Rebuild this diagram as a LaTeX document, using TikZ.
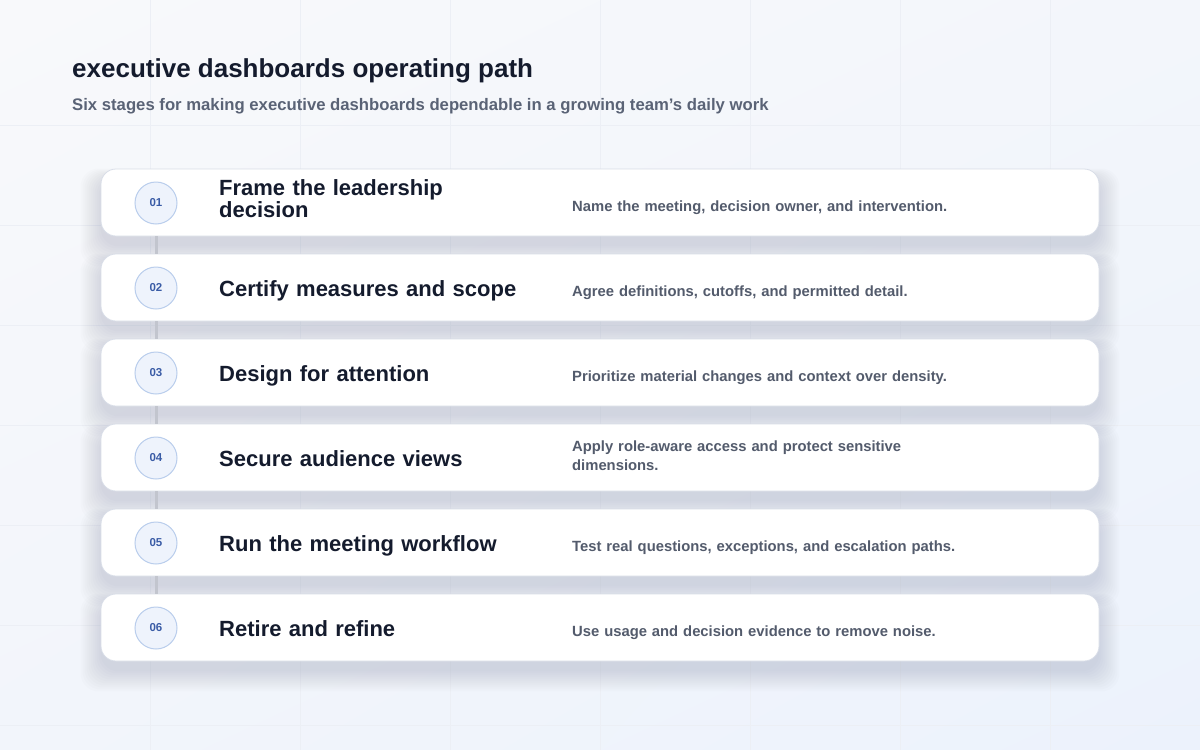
\documentclass[tikz,border=0pt]{standalone}
\usepackage{fontspec}
\setmainfont{Liberation Sans}
\usetikzlibrary{shadings,positioning}
\hyphenpenalty=10000
\exhyphenpenalty=10000

\definecolor{inkdark}{HTML}{141B2D}
\definecolor{inkgrey}{HTML}{5A6376}
\definecolor{descgrey}{HTML}{535B6C}
\definecolor{cardline}{HTML}{D9DEE8}
\definecolor{dotfill}{HTML}{EEF3FC}
\definecolor{dotline}{HTML}{B9CDEC}
\definecolor{dotink}{HTML}{3A5CA6}
\definecolor{railgrey}{HTML}{C2C5CE}
\definecolor{gridline}{HTML}{ECEFF5}
\definecolor{shadetone}{HTML}{7A8299}
\definecolor{bgul}{HTML}{F8F9FB}
\definecolor{bgur}{HTML}{F3F6FB}
\definecolor{bgll}{HTML}{F2F5FB}
\definecolor{bglr}{HTML}{ECF2FC}

\pgfdeclarelayer{backdrop}
\pgfdeclarelayer{shade}
\pgfsetlayers{backdrop,shade,main}

\tikzset{
  card/.style={rectangle,rounded corners=15pt,draw=cardline,line width=0.8pt,
    fill=white,minimum width=998pt,minimum height=67pt,inner sep=0pt},
  cardshade/.style={fill=shadetone,opacity=0.025,rounded corners=18pt},
  stepdot/.style={circle,draw=dotline,line width=1pt,fill=dotfill,
    minimum size=42pt,inner sep=0pt,text=dotink,
    font=\bfseries\fontsize{11.5}{12}\selectfont},
  stagetitle/.style={anchor=base west,inner sep=0pt,text=inkdark,text width=320pt,
    align=left,font=\bfseries\fontsize{22}{22}\selectfont},
  stagetext/.style={anchor=base west,inner sep=0pt,text=descgrey,text width=395pt,
    align=left,font=\bfseries\fontsize{14.8}{19}\selectfont},
  rail/.style={draw=railgrey,line width=3pt}
}

\begin{document}
\begin{tikzpicture}[x=1pt,y=-1pt]
\useasboundingbox (0,0) rectangle (1200,750);
% background and faint grid
\begin{pgfonlayer}{backdrop}
\shade[upper left=bgul,upper right=bgur,lower left=bgll,lower right=bglr]
  (0,0) rectangle (1200,750);
\foreach \gx in {150,300,...,1050} \draw[gridline,line width=0.6pt] (\gx,0) -- (\gx,750);
\foreach \gy in {125,225,...,725} \draw[gridline,line width=0.6pt] (0,\gy) -- (1200,\gy);
\end{pgfonlayer}

% heading
\node[anchor=base west,inner sep=0pt,text=inkdark,font=\bfseries\fontsize{26}{30}\selectfont]
  (title) at (72,77) {executive dashboards operating path};
\node[anchor=base west,inner sep=0pt,text=inkgrey,font=\bfseries\fontsize{16.7}{20}\selectfont]
  (subtitle) at (72,110) {Six stages for making executive dashboards dependable in a growing team’s daily work};

% cards
\node[card] (card1) at (600,202.5) {};
\node[card] (card2) at (600,287.5) {};
\node[card] (card3) at (600,372.5) {};
\node[card] (card4) at (600,457.5) {};
\node[card] (card5) at (600,542.5) {};
\node[card] (card6) at (600,627.5) {};

% soft shadows under the cards
\begin{pgfonlayer}{shade}
\foreach \c in {1,...,6}
  \foreach \s in {0,2,...,20}
    \fill[cardshade] ([xshift=-\s pt,yshift={-(10+\s)*1pt}]card\c.south west)
      rectangle ([xshift=\s pt,yshift={(\s/2-10)*1pt}]card\c.north east);
\end{pgfonlayer}

% rail between cards
\draw[rail] (card1.south -| 156,0) -- (card2.north -| 156,0);
\draw[rail] (card2.south -| 156,0) -- (card3.north -| 156,0);
\draw[rail] (card3.south -| 156,0) -- (card4.north -| 156,0);
\draw[rail] (card4.south -| 156,0) -- (card5.north -| 156,0);
\draw[rail] (card5.south -| 156,0) -- (card6.north -| 156,0);

% step numbers
\node[stepdot] (dot1) at (156,203) {01};
\node[stepdot] (dot2) at (156,288) {02};
\node[stepdot] (dot3) at (156,373) {03};
\node[stepdot] (dot4) at (156,458) {04};
\node[stepdot] (dot5) at (156,543) {05};
\node[stepdot] (dot6) at (156,628) {06};

% stage titles
\node[stagetitle] (name1) at (219,195) {Frame the leadership decision};
\node[stagetitle] (name2) at (219,296) {Certify measures and scope};
\node[stagetitle] (name3) at (219,381) {Design for attention};
\node[stagetitle] (name4) at (219,466) {Secure audience views};
\node[stagetitle] (name5) at (219,551) {Run the meeting workflow};
\node[stagetitle] (name6) at (219,636) {Retire and refine};

% stage descriptions
\node[stagetext] (note1) at (572,211) {Name the meeting, decision owner, and intervention.};
\node[stagetext] (note2) at (572,296) {Agree definitions, cutoffs, and permitted detail.};
\node[stagetext] (note3) at (572,381) {Prioritize material changes and context over density.};
\node[stagetext] (note4) at (572,451) {Apply role-aware access and protect sensitive dimensions.};
\node[stagetext] (note5) at (572,551) {Test real questions, exceptions, and escalation paths.};
\node[stagetext] (note6) at (572,636) {Use usage and decision evidence to remove noise.};
\end{tikzpicture}
\end{document}
